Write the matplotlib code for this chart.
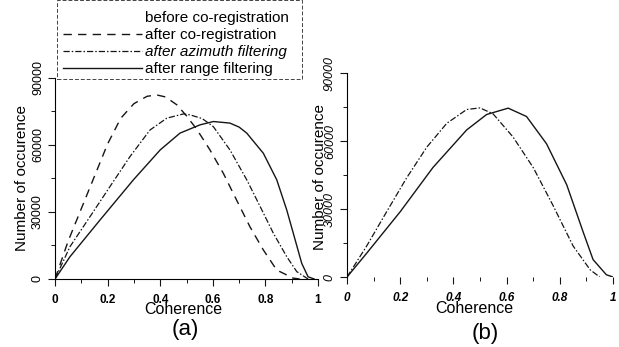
import matplotlib.pyplot as plt
from matplotlib.lines import Line2D
from matplotlib.patches import Rectangle
from matplotlib.ticker import MultipleLocator

plt.rcParams['font.family'] = ['Liberation Sans', 'DejaVu Sans']

# panel (a): coherence histograms
coreg_x = [0, 0.05, 0.1, 0.15, 0.2, 0.25, 0.3, 0.35, 0.387, 0.42, 0.463, 0.5, 0.539,
           0.589, 0.64, 0.69, 0.741, 0.792, 0.843, 0.905, 0.93]
coreg_y = [0, 17000, 31500, 46000, 60500, 72000, 78500, 81800, 82400, 81500, 78000,
           73000, 67000, 57800, 47300, 35400, 23400, 13000, 4000, 400, 0]

azim_x = [0, 0.057, 0.133, 0.209, 0.285, 0.361, 0.425, 0.488, 0.513, 0.56, 0.602,
          0.665, 0.729, 0.78, 0.83, 0.881, 0.919, 0.962]
azim_y = [0, 14500, 27900, 41400, 54800, 66700, 72000, 73900, 73500, 71800, 68200,
          57800, 44400, 32400, 20500, 10000, 3300, 0]

range_x = [0, 0.057, 0.171, 0.298, 0.4, 0.475, 0.551, 0.602, 0.665, 0.7, 0.729,
           0.792, 0.843, 0.881, 0.913, 0.938, 0.962, 0.985]
range_y = [0, 10000, 26400, 44400, 57800, 65300, 69000, 70500, 69800, 68000, 65300,
           56300, 44400, 30900, 17500, 7000, 1000, 0]

# panel (b)
b1_x = [0, 0.074, 0.149, 0.224, 0.3, 0.375, 0.45, 0.5, 0.549, 0.624, 0.7, 0.774,
        0.85, 0.914, 0.95]
b1_y = [0, 13700, 28800, 43700, 57300, 67800, 73900, 74600, 72000, 61800, 48300,
        31700, 13700, 3200, 0]
b2_x = [0, 0.074, 0.2, 0.323, 0.45, 0.525, 0.606, 0.675, 0.75, 0.826, 0.888, 0.925,
        0.975, 1.0]
b2_y = [0, 10500, 28800, 48300, 64900, 71700, 74500, 70800, 58800, 40700, 19800,
        7700, 1000, 0]

legend_labels = ['before co-registration', 'after co-registration',
                 'after azimuth filtering', 'after range filtering']

ink = '#151515'
dash = (0, (6, 4.5))
dashdot = (0, (5, 1.6, 1.2, 1.6))

fig = plt.figure(figsize=(6.19, 3.47), dpi=100)
ax1 = fig.add_axes([0.0889, 0.196, 0.4249, 0.5793])
ax2 = fig.add_axes([0.5606, 0.2017, 0.4297, 0.5879])

ax1.plot(coreg_x, coreg_y, color=ink, lw=1.0, linestyle=dash)
ax1.plot(azim_x, azim_y, color=ink, lw=0.9, linestyle=dashdot)
ax1.plot(range_x, range_y, color=ink, lw=1.0)

ax2.plot(b1_x, b1_y, color=ink, lw=0.9, linestyle=dashdot)
ax2.plot(b2_x, b2_y, color=ink, lw=1.0)

for ax in (ax1, ax2):
    ax.set_xlim(0, 1)
    ax.set_ylim(0, 90000)
    ax.xaxis.set_minor_locator(MultipleLocator(0.1))
    ax.yaxis.set_minor_locator(MultipleLocator(15000))
    ax.spines['top'].set_visible(False)
    ax.spines['right'].set_visible(False)
    ax.spines['left'].set_linewidth(0.8)
    ax.tick_params(which='major', length=5, width=0.8, color=ink)
    ax.tick_params(which='minor', length=3, width=0.7, color=ink)
    ax.tick_params(axis='x', pad=6)
    ax.tick_params(axis='y', pad=3)
    ax.set_xticks([0, 0.2, 0.4, 0.6, 0.8, 1])
    ax.set_xticklabels(['0', '0.2', '0.4', '0.6', '0.8', '1'])
    ax.set_yticks([0, 30000, 60000, 90000])
    ax.set_yticklabels(['0', '30000', '60000', '90000'])

ax1.spines['bottom'].set_linewidth(0.8)
ax2.spines['bottom'].set_visible(False)

for lab in ax1.get_xticklabels():
    lab.set_fontsize(8.5)
    lab.set_fontweight('bold')
for lab in ax2.get_xticklabels():
    lab.set_fontsize(8.5)
    lab.set_fontweight('bold')
    lab.set_fontstyle('italic')
for ax, style in ((ax1, 'normal'), (ax2, 'italic')):
    for lab in ax.get_yticklabels():
        lab.set_rotation(90)
        lab.set_va('center')
        lab.set_fontsize(9)
        lab.set_fontstyle(style)

handles = [Line2D([], [], linestyle='none'),
           Line2D([], [], color=ink, lw=1.0, linestyle=dash),
           Line2D([], [], color=ink, lw=0.9, linestyle=dashdot),
           Line2D([], [], color=ink, lw=1.0)]
leg = ax1.legend(handles, legend_labels, loc='upper left',
                 bbox_to_anchor=(63 / 619, 1 - 11 / 347), bbox_transform=fig.transFigure,
                 borderaxespad=0, fontsize=11, handlelength=5.15,
                 handletextpad=0.2, labelspacing=0.2, borderpad=0,
                 frameon=False)
leg.get_texts()[2].set_fontstyle('italic')

# dashed box round the legend, partly cut by the top edge
fig.patches.append(Rectangle((57 / 619, 1 - 79 / 347), 245 / 619, 79 / 347,
                             transform=fig.transFigure, fill=False,
                             edgecolor='#444444', linewidth=0.7,
                             linestyle=(0, (4, 2))))

fig.text(0.0355, 0.487, 'Number of occurence', rotation=90, ha='center',
         va='center', fontsize=11)
fig.text(0.517, 0.49, 'Number of occurence', rotation=90, ha='center',
         va='center', fontsize=11)
fig.text(0.2956, 0.1095, 'Coherence', ha='center', va='center', fontsize=11.5)
fig.text(0.767, 0.112, 'Coherence', ha='center', va='center', fontsize=11.5)
fig.text(0.299, 0.049, '(a)', ha='center', va='center', fontsize=16)
fig.text(0.7835, 0.040, '(b)', ha='center', va='center', fontsize=16)

fig.savefig('out.png', dpi=100)
